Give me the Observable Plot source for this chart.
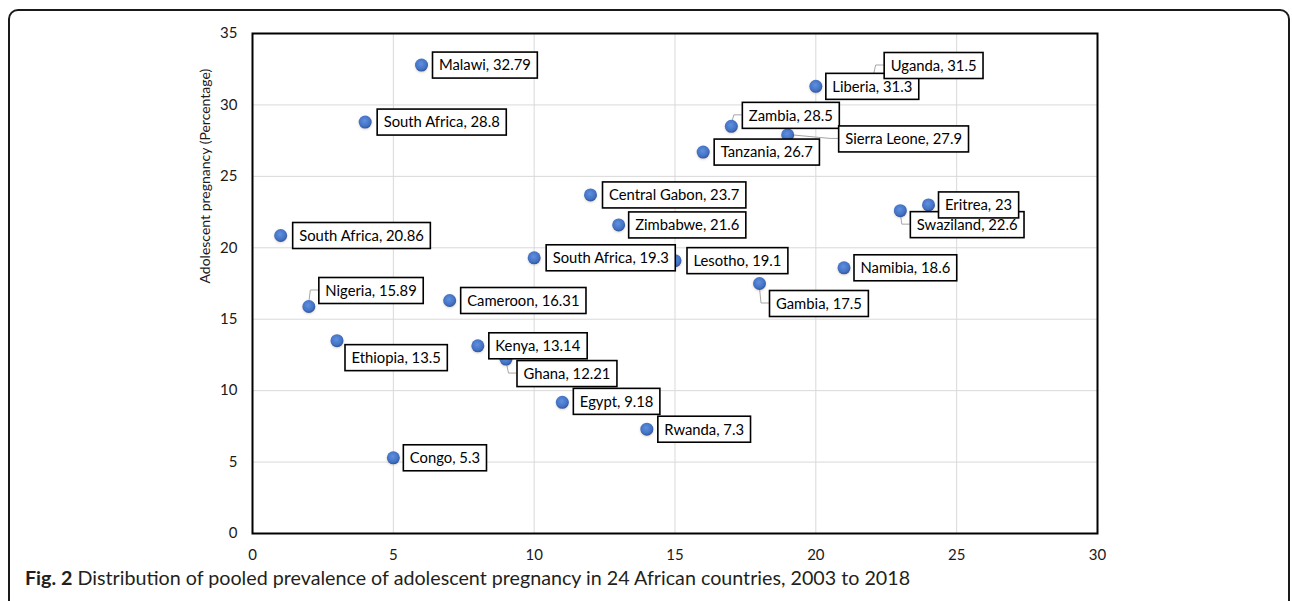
<!DOCTYPE html>
<html>
<head>
<meta charset="utf-8">
<script src="https://cdn.jsdelivr.net/npm/d3@7"></script>
<script src="https://cdn.jsdelivr.net/npm/@observablehq/plot@0.6"></script>
<style>
  body { margin: 0; background: #fff; }
  #fig { position: relative; width: 1292px; height: 601px; overflow: hidden; background: #fff; }
  #frame { position: absolute; left: 8px; top: 9px; width: 1282px; height: 700px; border: 2px solid #1a1a1a; border-radius: 10px; box-sizing: border-box; }
  #chart { position: absolute; left: 0; top: 0; }
  #caption { position: absolute; left: 25px; top: 568px; font-family: Lato, "Noto Sans", sans-serif; font-size: 17px; line-height: 20px; color: #231f20; white-space: nowrap; }
  #caption b { font-weight: 700; }
</style>
</head>
<body>
<div id="fig">
  <div id="frame"></div>
  <div id="chart"></div>
  <div id="caption"><b>Fig. 2</b> Distribution of pooled prevalence of adolescent pregnancy in 24 African countries, 2003 to 2018</div>
</div>
<script>
// ---- data ----
const studyIndex = [1, 2, 3, 4, 5, 6, 7, 8, 9, 10, 11, 12, 13, 14, 15, 16, 17, 18, 19, 20, 21, 22, 23, 24];
const countries = ["South Africa", "Nigeria", "Ethiopia", "South Africa", "Congo", "Malawi", "Cameroon", "Kenya",
  "Ghana", "South Africa", "Egypt", "Central Gabon", "Zimbabwe", "Rwanda", "Lesotho", "Tanzania",
  "Zambia", "Gambia", "Sierra Leone", "Liberia", "Namibia", "Uganda", "Swaziland", "Eritrea"];
const prevalence = [20.86, 15.89, 13.5, 28.8, 5.3, 32.79, 16.31, 13.14, 12.21, 19.3, 9.18, 23.7, 21.6, 7.3,
  19.1, 26.7, 28.5, 17.5, 27.9, 31.3, 18.6, 31.5, 22.6, 23];
const xTicks = [0, 5, 10, 15, 20, 25, 30];
const yTicks = [0, 5, 10, 15, 20, 25, 30, 35];
const yTitle = "Adolescent pregnancy (Percentage)";

// ---- label layout (pixel offsets of each label box from its point) ----
const labelDx = [12, 10, 8, 12, 10, 11, 11, 11, 11, 12, 11, 12, 10, 11, 12, 11, 11, 10, 51, 10, 10, 12, 10, 10];
const labelDy = [0, -16, 17, 0, 0, 0, 0, 0, 14.5, 0, -1, 0, 0, 0, 0, 0, -11, 20, 4, 0, 0, -18, 14, 0];
const hasLeader = [false, true, false, false, false, false, false, false, true, false, false, false, false, false,
  false, false, true, true, true, false, false, true, true, false];

const data = countries.map((c, i) => ({
  country: c, x: studyIndex[i], y: prevalence[i], label: `${c}, ${prevalence[i]}`
}));

const W = 1292, H = 566;
const plot = Plot.plot({
  width: W, height: H,
  marginLeft: 252, marginRight: 195, marginTop: 33, marginBottom: 33,
  x: { domain: [0, 30] },
  y: { domain: [0, 35] },
  style: { fontFamily: "Lato, 'Noto Sans', sans-serif", color: "#1a1a1a", background: "transparent" },
  marks: [
    Plot.gridX(xTicks, { stroke: "#d9d9d9", strokeOpacity: 1, strokeWidth: 1 }),
    Plot.gridY(yTicks, { stroke: "#d9d9d9", strokeOpacity: 1, strokeWidth: 1 }),
    Plot.frame({ stroke: "#000", strokeWidth: 2 }),
    Plot.axisX(xTicks, { tickSize: 0, tickPadding: 16, fontSize: 15, label: null, tickFormat: d => d }),
    Plot.axisY(yTicks, { tickSize: 0, tickPadding: 15, fontSize: 15, label: null, tickFormat: d => d }),
    Plot.text([yTitle], { frameAnchor: "left", text: d => d, rotate: -90, dx: -47, fontSize: 14, fill: "#1a1a1a" }),
    Plot.dot(data, { x: "x", y: "y", r: 6.5, fill: "#4472c4", stroke: "none" }),
    Plot.text(data, { x: "x", y: "y", text: "label", textAnchor: "start", fontSize: 14.8, fill: "#000" })
  ]
});

document.getElementById("chart").appendChild(plot);

// ---- post-process: point shading, label boxes, leader lines ----
const svg = d3.select(plot);
const defs = svg.insert("defs", ":first-child");
const grad = defs.append("radialGradient").attr("id", "dotgrad").attr("cx", "45%").attr("cy", "40%").attr("r", "60%");
grad.append("stop").attr("offset", "0%").attr("stop-color", "#5f90e0");
grad.append("stop").attr("offset", "70%").attr("stop-color", "#4472c4");
grad.append("stop").attr("offset", "100%").attr("stop-color", "#2f569e");
const filt = defs.append("filter").attr("id", "dotshadow").attr("x", "-50%").attr("y", "-50%").attr("width", "200%").attr("height", "200%");
filt.append("feDropShadow").attr("dx", 0).attr("dy", 1).attr("stdDeviation", 1.2).attr("flood-color", "#7a5a20").attr("flood-opacity", 0.25);

const sx = plot.scale("x"), sy = plot.scale("y");
const dotGroup = svg.selectAll("g[aria-label='dot']");
dotGroup.attr("fill", "url(#dotgrad)").attr("filter", "url(#dotshadow)");
dotGroup.selectAll("circle").attr("fill", "url(#dotgrad)");

// leader lines under the points
const leaders = svg.insert("g", "g[aria-label='dot']").attr("fill", "none").attr("stroke", "#a6a6a6").attr("stroke-width", 1);

const textGroups = svg.selectAll("g[aria-label='text']").nodes();
const labelGroup = textGroups[textGroups.length - 1];
const texts = d3.select(labelGroup).selectAll("text").nodes();
const BOX_H = 26, PAD_X = 6.5;
texts.forEach((node, i) => {
  const px = sx.apply(data[i].x), py = sy.apply(data[i].y);
  const bx = px + labelDx[i], cy = py + labelDy[i];
  node.removeAttribute("x");
  node.removeAttribute("y");
  node.setAttribute("transform", `translate(${bx + PAD_X},${cy})`);
  node.setAttribute("dy", "0.36em");
  const bb = node.getBBox();
  const w = bb.width + 2 * PAD_X;
  const rect = document.createElementNS("http://www.w3.org/2000/svg", "rect");
  rect.setAttribute("x", bx);
  rect.setAttribute("y", cy - BOX_H / 2);
  rect.setAttribute("width", w);
  rect.setAttribute("height", BOX_H);
  rect.setAttribute("fill", "#fff");
  rect.setAttribute("stroke", "#000");
  rect.setAttribute("stroke-width", 1.6);
  labelGroup.insertBefore(rect, node);
  if (hasLeader[i]) {
    leaders.append("path").attr("d", `M${bx},${cy}H${bx - 8}L${px},${py}`);
  }
});

// fit caption width to the reference line length
const cap = document.getElementById("caption");
const target = 885;
const cw = cap.getBoundingClientRect().width;
cap.style.fontSize = (17 * target / cw).toFixed(2) + "px";
</script>
</body>
</html>
